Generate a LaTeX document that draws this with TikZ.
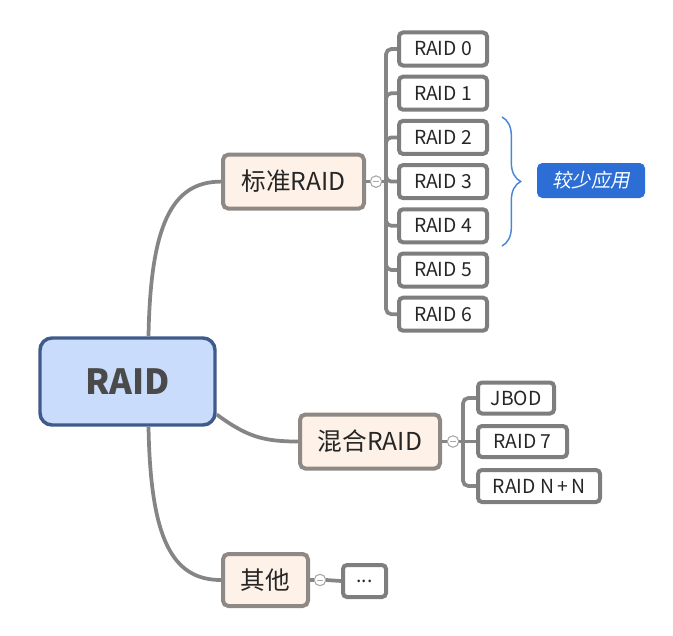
\documentclass[tikz,border=0pt]{standalone}
\usepackage{fontspec}
\setmainfont{Noto Sans CJK SC}
\newfontfamily\slfont{Noto Sans CJK SC}[FakeSlant=0.2]
\usetikzlibrary{decorations.pathreplacing,calc}
\definecolor{connc}{HTML}{858585}
\definecolor{leafc}{HTML}{7E7E7E}
\definecolor{subfill}{HTML}{FDF1E8}
\definecolor{subdraw}{HTML}{8E8984}
\definecolor{rootfill}{HTML}{C9DCFB}
\definecolor{rootdraw}{HTML}{3F5B8B}
\definecolor{roottext}{HTML}{4A4A4A}
\definecolor{bluebox}{HTML}{2C6ED5}
\definecolor{bracec}{HTML}{4A86D8}
\definecolor{circc}{HTML}{A8A8A8}
\begin{document}
\begin{tikzpicture}[x=0.75pt,y=-0.75pt,
  conn/.style={draw=connc, line width=2.8pt},
  trunk/.style={draw=connc, line width=2.8pt, rounded corners=4pt},
  leaf/.style={rectangle, rounded corners=3pt, draw=leafc, line width=3pt, fill=white,
    minimum height=24.75pt, inner sep=0pt, text=black!85, font=\fontsize{14.5}{16}\selectfont},
  sub/.style={rectangle, rounded corners=4pt, draw=subdraw, line width=3pt, fill=subfill,
    minimum height=40.5pt, inner sep=0pt, text=black!85, font=\fontsize{18.5}{20}\selectfont},
  rootbox/.style={rectangle, rounded corners=9pt, draw=rootdraw, line width=2.6pt, fill=rootfill,
    minimum width=131.25pt, minimum height=65.25pt, inner sep=0pt, text=roottext,
    font=\fontsize{26}{28}\selectfont\bfseries},
  collapse/.style={circle, draw=circc, line width=0.7pt, fill=white, minimum size=8.5pt, inner sep=0pt,
    path picture={\draw[circc, line width=0.6pt] ([xshift=-2.3pt]path picture bounding box.center) -- ([xshift=2.3pt]path picture bounding box.center);}},
  note/.style={rectangle, rounded corners=4pt, fill=bluebox, text=white, minimum width=81pt,
    minimum height=26.25pt, inner sep=0pt, font=\fontsize{14.5}{16}\selectfont\slfont}
]
\useasboundingbox (0,0) rectangle (673,635);

% root
\node[rootbox] (root) at (127.5,381.5) {RAID};

% second level
\node[sub, minimum width=105.75pt] (std) at (293.5,181.6) {标准RAID};
\node[sub, minimum width=105pt] (mix) at (370,441.5) {混合RAID};
\node[sub, minimum width=63.75pt, minimum height=39pt] (oth) at (265.5,580) {其他};

% collapse circles
\node[collapse] (c1) at (376,181.6) {};
\node[collapse] (c2) at (453,441.5) {};
\node[collapse] (c3) at (320,580) {};
\coordinate (t1) at (386,181.6);
\coordinate (t2) at (463,441.5);

% standard leaves
\foreach \i/\y in {0/49,1/93.2,2/137.4,3/181.6,4/225.8,5/270,6/314.2}{
  \draw[trunk] (t1) |- (399,\y);
}
\foreach \i/\y in {0/49,1/93.2,2/137.4,3/181.6,4/225.8,5/270,6/314.2}{
  \node[leaf, minimum width=66pt] (r\i) at (443,\y) {RAID \i};
}

% mixed leaves
\draw[trunk] (t2) |- (476,398);
\draw[trunk] (t2) |- (476,486);
\draw[trunk] (t2) -- (476,441.5);
\node[leaf, minimum width=57pt, minimum height=23.25pt, anchor=west] (jb) at (476,398) {JBOD};
\node[leaf, minimum width=66.75pt, minimum height=23.25pt, anchor=west] (r7) at (476,441.5) {RAID 7};
\node[leaf, minimum width=91.5pt, minimum height=24pt, anchor=west] (rnn) at (476,486) {RAID N{\,}+{\,}N};

% other leaf
\node[leaf, minimum width=32.25pt, minimum height=24pt] (dots) at (364.5,581) {...};

% connectors from parents to circles
\draw[conn] (std.east) -- (c1.west);
\draw[conn] (c1.east) -- (t1);
\draw[conn] (mix.east) -- (c2.west);
\draw[conn] (c2.east) -- (t2);
\draw[conn] (oth.east) -- (c3.west);
\draw[conn] (c3.east) -- (dots.west);
\node[collapse] at (c1) {};
\node[collapse] at (c2) {};
\node[collapse] at (c3) {};

% main curves
\draw[conn] ($(root.north)+(21,0)$) .. controls ($(root.north)+(23,-110)$) and ($(std.west)+(-50,0)$) .. (std.west);
\draw[conn] ($(root.east)+(0,33)$) .. controls ($(root.east)+(30,55)$) and ($(mix.west)+(-35,0)$) .. (mix.west);
\draw[conn] ($(root.south)+(21,0)$) .. controls ($(root.south)+(23,110)$) and ($(oth.west)+(-50,0)$) .. (oth.west);

% brace and note
\coordinate (bt) at (502,117);
\coordinate (bb) at (502,246);
\draw[bracec, line width=1.1pt, decorate, decoration={brace, amplitude=14pt, aspect=0.5}] (bt) -- (bb);
\node[note] (few) at (591,180.5) {较少应用};
\end{tikzpicture}
\end{document}
